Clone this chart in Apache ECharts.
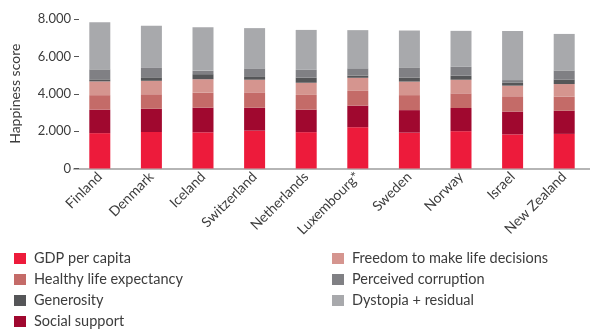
<!DOCTYPE html>
<html>
<head>
<meta charset="utf-8">
<script src="https://cdn.jsdelivr.net/npm/echarts@6/dist/echarts.min.js"></script>
<style>html,body{margin:0;padding:0;background:#fff;}#chart{width:590px;height:331px;}</style>
</head>
<body>
<div id="chart"></div>
<script>
const countries = ['Finland','Denmark','Iceland','Switzerland','Netherlands','Luxembourg*','Sweden','Norway','Israel','New Zealand'];
const gdp        = [1.892,1.953,1.936,2.026,1.945,2.209,1.920,1.997,1.826,1.852];
const social     = [1.258,1.243,1.320,1.226,1.206,1.155,1.204,1.239,1.221,1.235];
const health     = [0.775,0.777,0.803,0.822,0.787,0.790,0.803,0.786,0.818,0.752];
const freedom    = [0.736,0.719,0.718,0.677,0.651,0.700,0.724,0.728,0.568,0.680];
const generosity = [0.109,0.188,0.270,0.147,0.271,0.120,0.218,0.217,0.155,0.245];
const corruption = [0.534,0.532,0.191,0.461,0.419,0.388,0.512,0.474,0.143,0.483];
const dystopia   = [2.518,2.226,2.320,2.153,2.137,2.042,2.003,1.925,2.633,1.954];
const yTicks = [0, 2000, 4000, 6000, 8000];

const names = ['GDP per capita','Social support','Healthy life expectancy','Freedom to make life decisions','Generosity','Perceived corruption','Dystopia + residual'];
const colors = ['#ED1B3B','#A0082F','#C46B68','#D5958F','#555658','#808084','#A8A9AC'];
const datasets = [gdp, social, health, freedom, generosity, corruption, dystopia];

const font = 'Lato, "Open Sans", sans-serif';
const chart = echarts.init(document.getElementById('chart'));
const legendText = {color: '#3c3c3c', fontSize: 14.5, fontFamily: font, padding: [0,0,0,3]};
chart.setOption({
  animation: false,
  textStyle: {fontFamily: font},
  grid: {left: 71, right: -4, top: 19, bottom: 162.5},
  xAxis: {
    type: 'category',
    data: countries,
    axisLine: {lineStyle: {color: '#b5b5b5', width: 2}},
    axisTick: {show: false},
    axisLabel: {rotate: 45, color: '#3c3c3c', fontSize: 14, fontFamily: font, margin: 6}
  },
  yAxis: {
    type: 'value',
    min: 0, max: 8000, interval: 2000,
    name: 'Happiness score',
    nameLocation: 'middle',
    nameGap: 52,
    nameTextStyle: {color: '#3c3c3c', fontSize: 14, fontFamily: font},
    axisLine: {show: false},
    axisTick: {show: true, inside: true, length: 5, lineStyle: {color: '#555'}},
    splitLine: {show: false},
    axisLabel: {
      color: '#3c3c3c', fontSize: 13, fontFamily: font, margin: 3,
      formatter: v => yTicks.includes(v) ? (v === 0 ? '0' : (v/1000).toFixed(3)) : ''
    }
  },
  legend: [
    {
      data: ['GDP per capita','Healthy life expectancy','Generosity','Social support'],
      orient: 'vertical', left: 9, top: 246, height: 120, itemWidth: 12, itemHeight: 11, itemGap: 6,
      icon: 'rect', textStyle: legendText
    },
    {
      data: ['Freedom to make life decisions','Perceived corruption','Dystopia + residual'],
      orient: 'vertical', left: 327, top: 246, height: 120, itemWidth: 12, itemHeight: 11, itemGap: 6,
      icon: 'rect', textStyle: legendText
    }
  ],
  series: names.map((n, i) => ({
    name: n,
    type: 'bar',
    stack: 'total',
    barWidth: 21,
    itemStyle: {color: colors[i]},
    data: datasets[i].map(v => v * 1000)
  }))
});
</script>
</body>
</html>
